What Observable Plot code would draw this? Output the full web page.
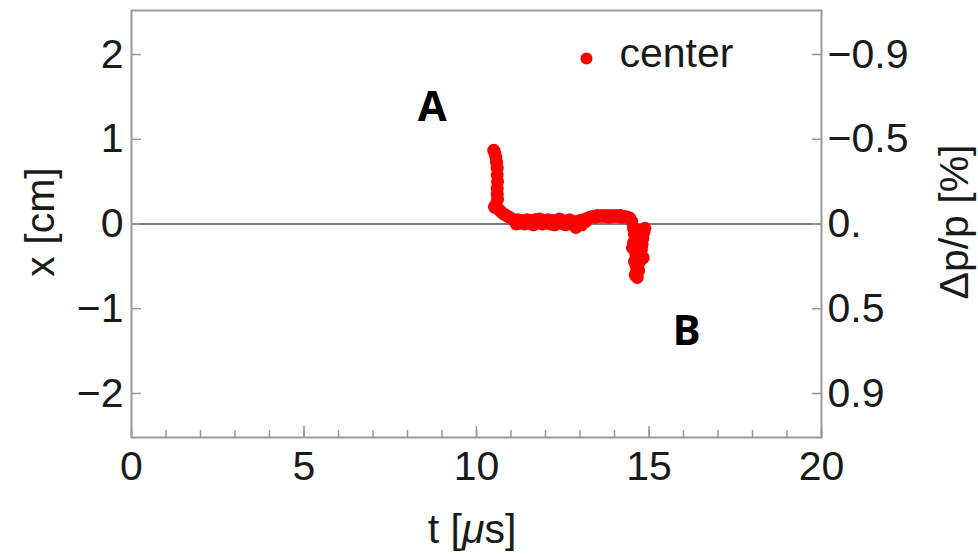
<!DOCTYPE html>
<html>
<head>
<meta charset="utf-8">
<script src="https://cdn.jsdelivr.net/npm/d3@7"></script>
<script src="https://cdn.jsdelivr.net/npm/@observablehq/plot@0.6"></script>
<style>
  html, body { margin: 0; padding: 0; background: #fff; }
  #chart { width: 978px; height: 554px; }
</style>
</head>
<body>
<div id="chart"></div>
<script>
// time values [µs]
const tValues = [
  10.50, 10.53, 10.56, 10.58, 10.60, 10.60, 10.61, 10.60, 10.60, 10.61,
  10.55, 10.52, 10.62, 10.70, 10.78, 10.86, 10.95, 11.03, 11.10, 11.15,
  11.20, 11.27, 11.33, 11.40, 11.46, 11.52, 11.58, 11.65, 11.70, 11.77,
  11.83, 11.90, 11.96, 12.02, 12.08, 12.15, 12.21, 12.27, 12.33, 12.40,
  12.46, 12.52, 12.58, 12.64, 12.70, 12.76, 12.82, 12.88, 12.94, 13.00,
  13.05, 13.10, 13.17, 13.23, 13.30, 13.37, 13.44, 13.50, 13.57, 13.64,
  13.70, 13.77, 13.84, 13.90, 13.97, 14.04, 14.10, 14.17, 14.23, 14.30,
  14.37, 14.44, 14.50, 14.55, 14.58, 14.60, 14.52, 14.62, 14.58, 14.63,
  14.65, 14.66, 14.70, 14.72, 14.75, 14.78, 14.80, 14.82, 14.85, 14.88,
  14.62, 14.68, 14.55, 14.83, 14.74, 14.60
];
// center position x [cm]
const xValues = [
  0.87, 0.84, 0.79, 0.73, 0.66, 0.58, 0.50, 0.42, 0.35, 0.29,
  0.22, 0.20, 0.18, 0.15, 0.12, 0.10, 0.08, 0.06, 0.04, 0.00,
  0.05, 0.01, 0.04, 0.00, 0.05, 0.01, 0.04, -0.01, 0.05, 0.02,
  0.06, 0.00, 0.04, 0.01, 0.05, 0.00, 0.04, -0.01, 0.03, 0.06,
  0.01, 0.04, -0.01, 0.02, 0.05, 0.00, 0.03, -0.04, 0.01, 0.04,
  -0.01, 0.05, 0.03, 0.07, 0.08, 0.09, 0.08, 0.10, 0.09, 0.10,
  0.09, 0.10, 0.08, 0.10, 0.09, 0.10, 0.09, 0.10, 0.08, 0.09,
  0.08, 0.07, 0.03, -0.05, -0.12, -0.20, -0.28, -0.36, -0.44, -0.50,
  -0.57, -0.63, -0.55, -0.45, -0.38, -0.30, -0.24, -0.17, -0.10, -0.05,
  -0.14, -0.33, -0.22, -0.40, -0.08, -0.60
];
const seriesName = "center";

// axis ticks
const xMajorTicks = [0, 5, 10, 15, 20];
const xMinorTicks = d3.range(0, 21, 1);
const yTicks = [2, 1, 0, -1, -2];
const yRightLabels = ["\u22120.9", "\u22120.5", "0.", "0.5", "0.9"];

// annotations
const annotLabels = ["A", "B"];
const annotT = [8.72, 16.09];
const annotX = [1.38, -1.27];

const points = tValues.map((t, i) => ({t, x: xValues[i]}));
const annots = annotLabels.map((label, i) => ({label, t: annotT[i], x: annotX[i]}));
const rightFmt = new Map(yTicks.map((v, i) => [v, yRightLabels[i]]));

const W = 978, H = 554;
const mL = 131, mR = 157, mT = 10, mB = 117;
const frameColor = "#999999";
const textColor = "#1a1a1a";
const font = "'Liberation Sans', Arial, sans-serif";
const fs = 41;

const plot = Plot.plot({
  width: W,
  height: H,
  marginLeft: mL,
  marginRight: mR,
  marginTop: mT,
  marginBottom: mB,
  x: {domain: [0, 20]},
  y: {domain: [-2.52, 2.52]},
  style: {fontFamily: font, fontSize: fs + "px", color: textColor, background: "#fff"},
  marks: [
    Plot.ruleY([0], {stroke: "#7a7a7a", strokeWidth: 2}),
    // bottom ticks (inward)
    Plot.axisX({ticks: xMinorTicks, tickSize: -7, tickFormat: () => "", stroke: frameColor, strokeWidth: 1.5, label: null}),
    Plot.axisX({ticks: xMajorTicks, tickSize: -11, tickFormat: () => "", stroke: frameColor, strokeWidth: 1.5, label: null}),
    Plot.axisX({ticks: xMajorTicks, tickSize: 0, tickPadding: 13, tickFormat: d => String(d), fill: textColor, label: null}),
    // left axis
    Plot.axisY({ticks: yTicks, tickSize: -10, tickFormat: () => "", stroke: frameColor, strokeWidth: 1.5, label: null}),
    Plot.axisY({ticks: yTicks, tickSize: 0, tickPadding: 8, tickFormat: d => d < 0 ? "\u2212" + Math.abs(d) : String(d), fill: textColor, label: null}),
    // right axis
    Plot.axisY({anchor: "right", ticks: yTicks, tickSize: -10, tickFormat: () => "", stroke: frameColor, strokeWidth: 1.5, label: null}),
    Plot.axisY({anchor: "right", ticks: yTicks, tickSize: 0, tickPadding: 6, tickFormat: d => rightFmt.get(d), fill: textColor, label: null}),
    Plot.frame({stroke: frameColor, strokeWidth: 2}),
    Plot.dot(points, {x: "t", y: "x", r: 6.5, fill: "#ff0000", stroke: "none"}),
    // legend
    Plot.dot([seriesName], {frameAnchor: "top-right", dx: -235, dy: 48, r: 6, fill: "#ff0000", stroke: "none"}),
    Plot.text([seriesName], {frameAnchor: "top-right", text: d => d, textAnchor: "start", lineAnchor: "middle", dx: -202, dy: 43, fontSize: fs, fill: textColor}),
    // annotations
    Plot.text(annots, {x: "t", y: "x", text: "label", fontSize: 42, fontWeight: "bold", fontFamily: "'Open Sans', 'Liberation Sans', sans-serif", fill: "#000"})
  ]
});

// axis titles with mixed styling
const svg = d3.select(plot);
const xt = svg.append("text")
  .attr("x", (mL + (W - mR)) / 2 - 4)
  .attr("y", 543)
  .attr("text-anchor", "middle")
  .attr("font-family", font)
  .attr("font-size", fs)
  .attr("fill", textColor);
xt.append("tspan").text("t [");
xt.append("tspan").attr("font-style", "italic").text("\u03bc");
xt.append("tspan").text("s]");

svg.append("text")
  .attr("transform", `translate(54,222) rotate(-90)`)
  .attr("text-anchor", "middle")
  .attr("font-family", font)
  .attr("font-size", fs)
  .attr("fill", textColor)
  .text("x [cm]");

svg.append("text")
  .attr("transform", `translate(968,222) rotate(-90)`)
  .attr("text-anchor", "middle")
  .attr("font-family", font)
  .attr("font-size", fs)
  .attr("fill", textColor)
  .text("\u0394p/p [%]");

document.getElementById("chart").appendChild(plot);
</script>
</body>
</html>
